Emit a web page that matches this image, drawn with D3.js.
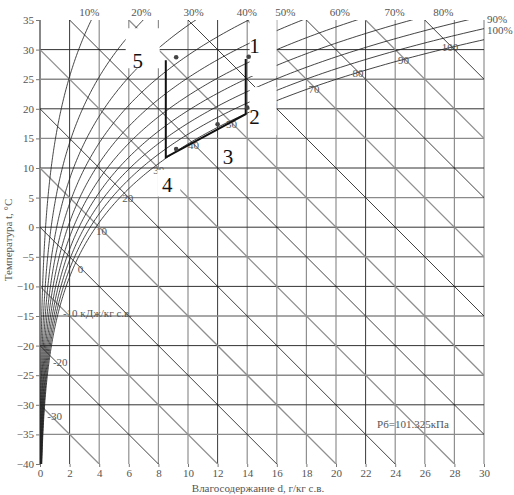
<!DOCTYPE html>
<meta charset="utf-8">
<style>
body { margin: 0; background: #fff; }
svg text { font-family: "Liberation Serif", "DejaVu Serif", serif; fill: #555; }
.tick text { font-size: 11px; }
.grid-v, .grid-h { fill: none; }
.rh { fill: none; stroke: #222; stroke-width: 0.85px; }
.enth { fill: none; }
.proc { fill: none; stroke: #111; stroke-width: 2px; }
</style>
<svg width="514" height="495"></svg>
<script src="https://cdn.jsdelivr.net/npm/d3@7/dist/d3.min.js"></script>
<script>

// axis ticks
var tTicks = [-40, -35, -30, -25, -20, -15, -10, -5, 0, 5, 10, 15, 20, 25, 30, 35];
var dTicks = [0, 2, 4, 6, 8, 10, 12, 14, 16, 18, 20, 22, 24, 26, 28, 30];

// relative humidity curves
var rhLevels = [0.1, 0.2, 0.3, 0.4, 0.5, 0.6, 0.7, 0.8, 0.9, 1.0];
var rhLabels = ["10%", "20%", "30%", "40%", "50%", "60%", "70%", "80%", "90%", "100%"];

// enthalpy lines, kJ/kg
var hLevels = [-30, -20, -10, 0, 10, 20, 30, 40, 50, 60, 70, 80, 90, 100];

// process drawn on the chart: [d g/kg, t C]
var processPath = [[8.5, 28.2], [8.5, 11.8], [13.9, 19.1], [13.9, 28.4]];
var statePoints = [[9.2, 28.7], [14.1, 28.8], [14.0, 20.2], [12.0, 17.4], [9.2, 13.2]];
var pointNames = ["1", "2", "3", "4", "5"];
var pointNameD = [14.5, 14.5, 12.7, 8.6, 6.6];
var pointNameT = [30.6, 18.6, 12.0, 7.2, 28.2];

var pressure = 101.325;

var svg = d3.select("svg");
var x = d3.scaleLinear().domain([0, 30]).range([40, 484]),
    y = d3.scaleLinear().domain([-40, 35]).range([464, 20]);

svg.append("clipPath").attr("id", "plot")
  .append("rect")
    .attr("x", x(0)).attr("y", y(35))
    .attr("width", x(30) - x(0)).attr("height", y(-40) - y(35));

function psat(t) { return 0.61094 * Math.exp(17.625 * t / (t + 243.04)); }
function dOf(t, phi) { var p = phi * psat(t); return 622 * p / (pressure - p); }

var g = svg.append("g");

// grid
g.selectAll(".grid-v")
  .data(dTicks)
  .enter().append("line")
    .attr("class", "grid-v")
    .attr("x1", function(d) { return x(d); })
    .attr("x2", function(d) { return x(d); })
    .attr("y1", y(35)).attr("y2", y(-40))
    .attr("stroke", function(d) { return d === 0 ? "#888" : (d % 10 === 2 ? "#222" : "#8f8f8f"); })
    .attr("stroke-width", function(d) { return d === 0 ? 2 : (d % 10 === 2 ? 0.9 : 1.2); });

g.selectAll(".grid-h")
  .data(tTicks.slice(1, -1))
  .enter().append("line")
    .attr("class", "grid-h")
    .attr("x1", x(0)).attr("x2", x(30))
    .attr("y1", function(t) { return y(t); })
    .attr("y2", function(t) { return y(t); })
    .attr("stroke", function(t, i) { return i % 2 ? "#333" : "#8a8a8a"; })
    .attr("stroke-width", function(t, i) { return i % 2 ? 1 : 1.4; });

// enthalpy lines  h = t + 2.5 d
var plot = g.append("g").attr("clip-path", "url(#plot)");
plot.selectAll(".enth")
  .data(hLevels)
  .enter().append("line")
    .attr("class", "enth")
    .attr("x1", x(0)).attr("y1", function(h) { return y(h); })
    .attr("x2", x(30)).attr("y2", function(h) { return y(h - 2.5 * 30); })
    .attr("stroke", function(h, i) { return i % 2 ? "#111" : "#8f8f8f"; })
    .attr("stroke-width", function(h, i) { return i % 2 ? 0.8 : 1.3; });

// relative humidity curves
var temps = d3.range(-40, 36.01, 0.25);
var curve = d3.line()
    .x(function(p) { return x(p[0]); })
    .y(function(p) { return y(p[1]); });
plot.selectAll(".rh")
  .data(rhLevels)
  .enter().append("path")
    .attr("class", "rh")
    .attr("d", function(phi) {
      return curve(temps.map(function(t) { return [dOf(t, phi), t]; }).filter(function(p) { return p[0] <= 31; }));
    });

// rh labels
rhLevels.forEach(function(phi, i) {
  var dTop = dOf(35, phi);
  if (dTop <= 30) {
    svg.append("text")
      .attr("x", x(dTop) - (phi <= 0.4 ? 2 : (phi < 0.8 ? 17 : 24)))
      .attr("y", 16)
      .attr("text-anchor", "middle")
      .style("font-size", "11px")
      .text(rhLabels[i]);
  } else {
    var tEdge = d3.range(-40, 35, 0.05).find(function(t) { return dOf(t, phi) >= 30; });
    svg.append("text")
      .attr("x", x(30) + 3)
      .attr("y", y(tEdge) - 6)
      .style("font-size", "11px")
      .text(rhLabels[i]);
  }
});

// enthalpy labels where the line meets saturation
hLevels.forEach(function(h) {
  var lo = -40, hi = 35;
  for (var k = 0; k < 50; k++) {
    var mid = (lo + hi) / 2;
    if (mid + 2.5 * dOf(mid, 1) < h) lo = mid; else hi = mid;
  }
  var ts = lo, ds = dOf(ts, 1);
  var txt = h === -10 ? "-10 кДж/кг с.в." : String(h);
  var k2 = Math.max(h, 0) / 100;
  svg.append("text")
    .attr("x", x(ds) + (h < 0 ? 3 : 5 - 7 * k2))
    .attr("y", y(ts) + (h < 0 ? 11 : 10 - 6 * k2))
    .attr("text-anchor", h < 0 ? "start" : "middle")
    .style("font-size", "11px")
    .text(txt);
});

// white patches under the point numbers
var patch = [[-5, 22, -26, 30], [-5, 22, -30, 18], [-8, 12, -17, 10], [-10, 13, -15, 12], [-12, 22, -32, 8]];
pointNames.forEach(function(n, i) {
  var px = x(pointNameD[i]), py = y(pointNameT[i]), r = patch[i];
  svg.append("rect")
    .attr("x", px + r[0]).attr("y", py + r[2])
    .attr("width", r[1] - r[0]).attr("height", r[3] - r[2])
    .attr("fill", "#fff");
});

// process
svg.append("path")
    .attr("class", "proc")
    .attr("d", curve(processPath));
svg.selectAll(".pt")
  .data(statePoints)
  .enter().append("circle")
    .attr("class", "pt")
    .attr("cx", function(p) { return x(p[0]); })
    .attr("cy", function(p) { return y(p[1]); })
    .attr("r", 2.3)
    .attr("fill", "#444");
pointNames.forEach(function(n, i) {
  svg.append("text")
    .attr("x", x(pointNameD[i]))
    .attr("y", y(pointNameT[i]))
    .attr("dy", "0.35em")
    .attr("text-anchor", "middle")
    .style("font-size", "21px")
    .style("fill", "#111")
    .text(n);
});

// axes
var ax = svg.append("g")
    .attr("transform", "translate(0," + y(-40) + ")")
    .call(d3.axisBottom(x).tickValues(dTicks).tickSize(3).tickPadding(2).tickFormat(d3.format("d")));
var ay = svg.append("g")
    .attr("transform", "translate(" + x(0) + ",0)")
    .call(d3.axisLeft(y).tickValues(tTicks).tickSize(4).tickPadding(2).tickFormat(d3.format("d")));
[ax, ay].forEach(function(a) {
  a.select(".domain").remove();
  a.selectAll(".tick line").attr("stroke", "#777");
  a.selectAll(".tick text").style("fill", "#555").style("font-family", "Liberation Serif, serif");
});

svg.append("text")
    .attr("x", 258).attr("y", 492)
    .attr("text-anchor", "middle")
    .style("font-size", "11px")
    .text("Влагосодержание d, г/кг с.в.");
svg.append("text")
    .attr("transform", "translate(12," + 240 + ") rotate(-90)")
    .attr("text-anchor", "middle")
    .style("font-size", "11px")
    .text("Температура t, °С");
svg.append("text")
    .attr("x", 413).attr("y", 428)
    .attr("text-anchor", "middle")
    .style("font-size", "11px")
    .text("Рб=101.325кПа");

</script>
